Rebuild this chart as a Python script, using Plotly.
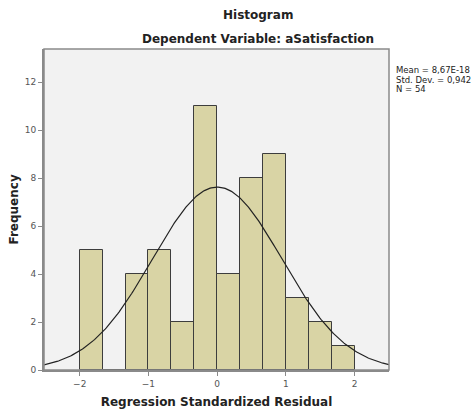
import numpy as np
import plotly.graph_objects as go

# Histogram of regression standardized residuals
bin_edges = [-2.0, -5/3, -4/3, -1.0, -2/3, -1/3, 0.0, 1/3, 2/3, 1.0, 4/3, 5/3, 2.0]
frequencies = [5, 0, 4, 5, 2, 11, 4, 8, 9, 3, 2, 1]

# Summary statistics shown beside the plot
mean_val = 8.67e-18
std_dev = 0.942
n_obs = 54
stat_lines = ["Mean = 8,67E-18", "Std. Dev. = 0,942", "N = 54"]

x_ticks = [-2, -1, 0, 1, 2]
y_ticks = [0, 2, 4, 6, 8, 10, 12]
x_range = [-2.52, 2.5]
y_range = [0, 13.375]

edges = np.array(bin_edges)
centers = (edges[:-1] + edges[1:]) / 2
widths = np.diff(edges)

fig = go.Figure()
fig.add_trace(go.Bar(
    x=centers, y=frequencies, width=widths,
    marker=dict(color="#D9D4A5", line=dict(color="#3d3d3d", width=1)),
    hoverinfo="x+y", showlegend=False,
))

# Normal curve scaled to counts
bw = widths[0]
xs = np.linspace(x_range[0], x_range[1], 300)
ys = n_obs * bw / (std_dev * np.sqrt(2 * np.pi)) * np.exp(-0.5 * ((xs - mean_val) / std_dev) ** 2)
fig.add_trace(go.Scatter(x=xs, y=ys, mode="lines",
                         line=dict(color="#222222", width=1.2),
                         showlegend=False, hoverinfo="skip"))

fig.update_layout(
    width=475, height=414,
    margin=dict(l=44, r=86, t=49, b=44),
    paper_bgcolor="white", plot_bgcolor="#F2F2F2",
    bargap=0,
    font=dict(family="DejaVu Sans", color="#333333"),
    xaxis=dict(range=x_range, tickvals=x_ticks, showgrid=False, zeroline=False,
               automargin=False,
               showline=True, linecolor="#8a8a8a", linewidth=2,
               ticks="outside", ticklen=4, tickcolor="#8a8a8a",
               tickfont=dict(size=9, color="#555555"),
               title=dict(text="<b>Regression Standardized Residual</b>",
                          font=dict(size=12, color="#222222"), standoff=10)),
    yaxis=dict(range=y_range, tickvals=y_ticks, showgrid=False, zeroline=False,
               automargin=False,
               showline=True, linecolor="#8a8a8a", linewidth=2,
               ticks="outside", ticklen=4, tickcolor="#8a8a8a",
               tickfont=dict(size=9, color="#555555")),
)

# Frame around plot area (top and right edges)
fig.add_shape(type="rect", xref="paper", yref="paper", x0=0, y0=0, x1=1, y1=1,
              line=dict(color="#8a8a8a", width=1.5), layer="above")

# Y axis title
fig.add_annotation(text="<b>Frequency</b>", xref="paper", yref="paper",
                   x=0, xshift=-31, y=0.5, xanchor="center", yanchor="middle",
                   textangle=-90, showarrow=False,
                   font=dict(size=12, color="#222222"))

# Titles
fig.add_annotation(text="<b>Histogram</b>", xref="paper", yref="paper",
                   x=0.62, y=1, yshift=34, yanchor="middle", showarrow=False,
                   font=dict(size=12, color="#222222"))
fig.add_annotation(text="<b>Dependent Variable: aSatisfaction</b>", xref="paper", yref="paper",
                   x=0.62, y=1, yshift=10, yanchor="middle", showarrow=False,
                   font=dict(size=12, color="#222222"))

# Statistics block
for i, line in enumerate(stat_lines):
    fig.add_annotation(text=line, xref="paper", yref="paper", x=1, xshift=5,
                       y=1, yshift=-21 - 9.5 * i, xanchor="left", yanchor="middle",
                       showarrow=False, font=dict(size=8.5, color="#222222"))

fig.write_html("out.html")
